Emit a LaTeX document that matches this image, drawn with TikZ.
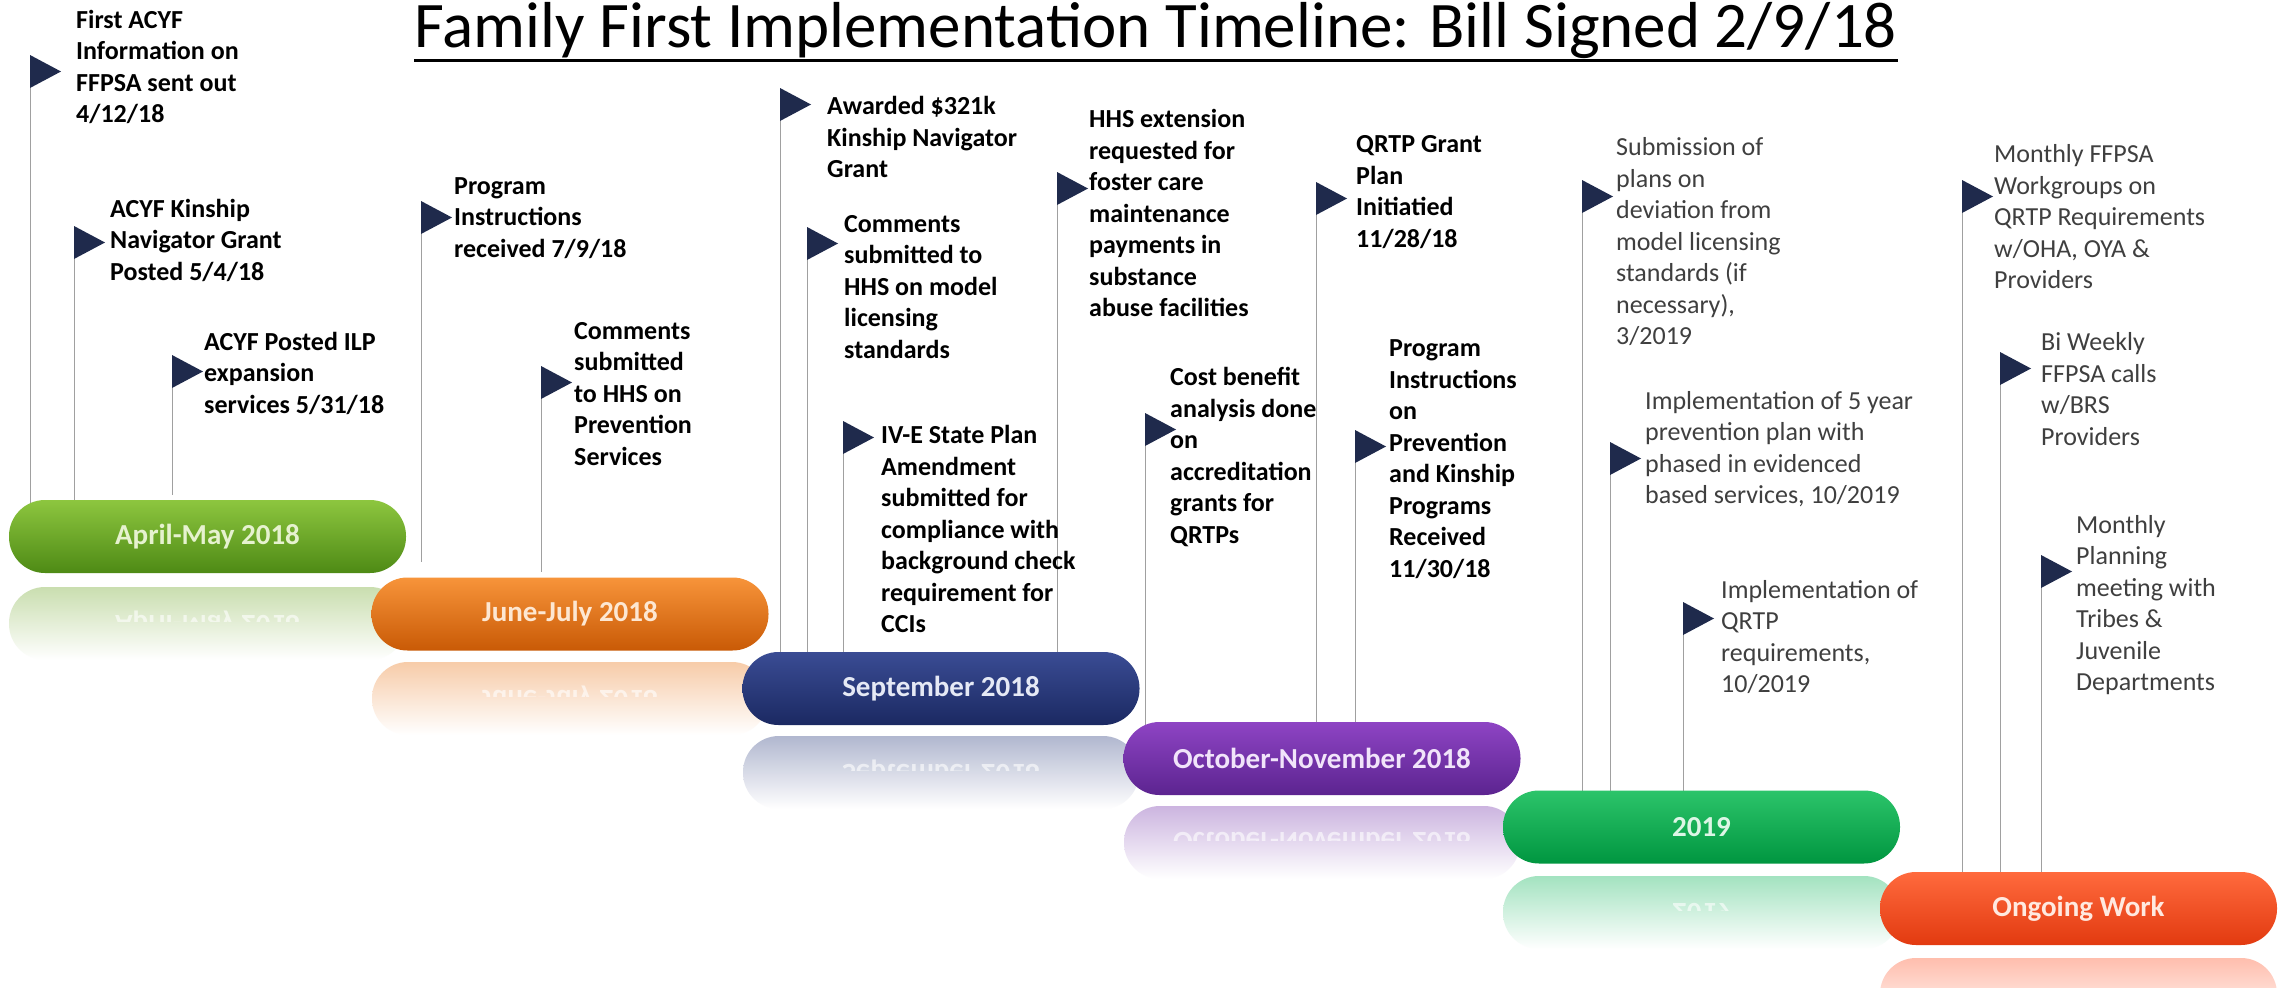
\documentclass[tikz,border=0pt]{standalone}
\usepackage{graphicx}
\usepackage{fontspec}
\setmainfont{Carlito}
\usetikzlibrary{backgrounds,calc}
\definecolor{flagc}{HTML}{1F2A4C}
\definecolor{polec}{HTML}{A0A0A0}
\definecolor{txtgray}{HTML}{3F3F3F}
\definecolor{gAt}{HTML}{8DC63F}\definecolor{gAm}{HTML}{6BA322}\definecolor{gAb}{HTML}{4E8A15}\definecolor{gAx}{HTML}{E6F2CF}
\definecolor{gBt}{HTML}{F7943A}\definecolor{gBm}{HTML}{E8700F}\definecolor{gBb}{HTML}{C95A06}\definecolor{gBx}{HTML}{FDE7D2}
\definecolor{gCt}{HTML}{3A4C94}\definecolor{gCm}{HTML}{26377A}\definecolor{gCb}{HTML}{1B2962}\definecolor{gCx}{HTML}{E5E9F5}
\definecolor{gDt}{HTML}{8E44C4}\definecolor{gDm}{HTML}{7130A8}\definecolor{gDb}{HTML}{5C2490}\definecolor{gDx}{HTML}{F1E4FA}
\definecolor{gEt}{HTML}{2CC46A}\definecolor{gEm}{HTML}{00B050}\definecolor{gEb}{HTML}{009640}\definecolor{gEx}{HTML}{DDF6E6}
\definecolor{gFt}{HTML}{FF6A3D}\definecolor{gFm}{HTML}{FF4A1C}\definecolor{gFb}{HTML}{E23A10}\definecolor{gFx}{HTML}{FFE9E0}
\tikzset{
  pill/.style={rounded corners=36pt, minimum width=397pt, minimum height=73pt, inner sep=0pt,
    font=\fontsize{29}{34}\selectfont\bfseries},
  evt/.style={anchor=west, align=left, inner sep=0pt, font=\fontsize{26}{31.5}\selectfont\bfseries, text=black},
  evtlight/.style={anchor=west, align=left, inner sep=0pt, font=\fontsize{26}{31.5}\selectfont, text=txtgray},
  pole/.style={draw=polec, line width=1pt},
  pennant/.style={fill=flagc},
  mirror/.style={inner sep=0pt, font=\fontsize{29}{34}\selectfont\bfseries, text=white, opacity=0.6},
}
\newcommand\pennantat[1]{\fill[pennant] (#1) -- ++(31,16.5) -- ++(-31,16.5) -- cycle;}
\newcommand\reflectband[5]{%
  \shade[top color=#5!36!white, middle color=white, bottom color=white, rounded corners=36pt]
    (#1,#3) rectangle (#2,#3+73);}
\newcommand\reflecttext[5]{%
  \begin{scope}
    \clip (#1,#3) rectangle (#2,#3+34);
    \node[mirror] at ({(#1+#2)/2},#4) {\scalebox{1}[-1]{#5}};
  \end{scope}}
\begin{document}
\begin{tikzpicture}[x=1pt,y=-1pt]
\useasboundingbox (0,0) rectangle (2284,988);

% title
\node[font=\fontsize{65}{70}\selectfont, inner sep=0pt, anchor=base] (title) at (1156,47)
  {Family First Implementation Timeline: Bill Signed 2/9/18};
\draw[line width=3pt] ([yshift=-13pt]title.base west) -- ([yshift=-13pt]title.base east);

% reflections
\reflectband{9}{406}{587}{623.5}{gAm}
\reflectband{372}{768}{662}{698}{gBm}
\reflectband{743}{1139}{736}{772.5}{gCm}
\reflectband{1124}{1520}{806}{842.5}{gDm}
\reflectband{1503}{1900}{876}{913}{gEm}
\reflectband{1880}{2277}{958}{994.5}{gFm}
\reflecttext{9}{406}{587}{623.5}{April-May 2018}
\reflecttext{372}{768}{662}{698}{June-July 2018}
\reflecttext{743}{1139}{736}{772.5}{September 2018}
\reflecttext{1124}{1520}{806}{842.5}{October-November 2018}
\reflecttext{1503}{1900}{876}{913}{2019}

% pills
\node[pill, top color=gAt, middle color=gAm, bottom color=gAb, text=gAx] (p1) at (207.5,536.5) {April-May 2018};
\node[pill, top color=gBt, middle color=gBm, bottom color=gBb, text=gBx] (p2) at (570,614) {June-July 2018};
\node[pill, top color=gCt, middle color=gCm, bottom color=gCb, text=gCx] (p3) at (941,688.5) {September 2018};
\node[pill, top color=gDt, middle color=gDm, bottom color=gDb, text=gDx] (p4) at (1322,758.5) {October-November 2018};
\node[pill, top color=gEt, middle color=gEm, bottom color=gEb, text=gEx] (p5) at (1701.5,827) {2019};
\node[pill, top color=gFt, middle color=gFm, bottom color=gFb, text=gFx] (p6) at (2078.5,908.5) {Ongoing Work};

% flag anchor points (top of each pole)
\coordinate (fA) at (30,55);
\coordinate (fB) at (74,226);
\coordinate (fC) at (172,355);
\coordinate (fD) at (421,201);
\coordinate (fE) at (541,366);
\coordinate (fF) at (780,88);
\coordinate (fG) at (807,227);
\coordinate (fH) at (843,421);
\coordinate (fI) at (1057,172);
\coordinate (fJ) at (1145,413);
\coordinate (fK) at (1316,182);
\coordinate (fL) at (1355,430);
\coordinate (fM) at (1582,180);
\coordinate (fN) at (1610,442);
\coordinate (fO) at (1683,602);
\coordinate (fP) at (1962,180);
\coordinate (fQ) at (2000,352);
\coordinate (fR) at (2041,555);

% background and poles
\begin{scope}[on background layer]
\fill[white] (0,0) rectangle (2284,988);
\draw[pole] (fA) -- (fA |- p1.center);
\draw[pole] (fB) -- (fB |- p1.center);
\draw[pole] (fC) -- ($(fC |- p1.north)+(0,-5)$);
\draw[pole] (fD) -- ($(fD |- p2.north)+(0,-15)$);
\draw[pole] (fE) -- ($(fE |- p2.north)+(0,-5)$);
\draw[pole] (fF) -- (fF |- p3.center);
\draw[pole] (fG) -- (fG |- p3.center);
\draw[pole] (fH) -- (fH |- p3.center);
\draw[pole] (fI) -- (fI |- p3.center);
\draw[pole] (fJ) -- (fJ |- p4.center);
\draw[pole] (fK) -- (fK |- p4.center);
\draw[pole] (fL) -- (fL |- p4.center);
\draw[pole] (fM) -- (fM |- p5.center);
\draw[pole] (fN) -- (fN |- p5.center);
\draw[pole] (fO) -- (fO |- p5.center);
\draw[pole] (fP) -- (fP |- p6.center);
\draw[pole] (fQ) -- (fQ |- p6.center);
\draw[pole] (fR) -- (fR |- p6.center);
\end{scope}

% pennants
\pennantat{fA}\pennantat{fB}\pennantat{fC}\pennantat{fD}\pennantat{fE}\pennantat{fF}
\pennantat{fG}\pennantat{fH}\pennantat{fI}\pennantat{fJ}\pennantat{fK}\pennantat{fL}
\pennantat{fM}\pennantat{fN}\pennantat{fO}\pennantat{fP}\pennantat{fQ}\pennantat{fR}

% event texts
\node[evt] (tA) at (76,67) {First ACYF\\Information on\\FFPSA sent out\\4/12/18};
\node[evt] (tB) at (110,240) {ACYF Kinship\\Navigator Grant\\Posted 5/4/18};
\node[evt] (tC) at (204,373) {ACYF Posted ILP\\expansion\\services 5/31/18};
\node[evt] (tD) at (454,218) {Program\\Instructions\\received 7/9/18};
\node[evt] (tE) at (574,394) {Comments\\submitted\\to HHS on\\Prevention\\Services};
\node[evt] (tF) at (827,137) {Awarded \$321k\\Kinship Navigator\\Grant};
\node[evt] (tG) at (844,287) {Comments\\submitted to\\HHS on model\\licensing\\standards};
\node[evt] (tH) at (881,529) {IV-E State Plan\\Amendment\\submitted for\\compliance with\\background check\\requirement for\\CCIs};
\node[evt] (tI) at (1089,213) {HHS extension\\requested for\\foster care\\maintenance\\payments in\\substance\\abuse facilities};
\node[evt] (tJ) at (1170,457) {Cost benefit\\analysis done\\on\\accreditation\\grants for\\QRTPs};
\node[evt] (tK) at (1356,192) {QRTP Grant\\Plan\\Initiatied\\11/28/18};
\node[evt] (tL) at (1389,459) {Program\\Instructions\\on\\Prevention\\and Kinship\\Programs\\Received\\11/30/18};
\node[evtlight] (tM) at (1616,242) {Submission of\\plans on\\deviation from\\model licensing\\standards (if\\necessary),\\3/2019};
\node[evtlight] (tN) at (1645,449) {Implementation of 5 year\\prevention plan with\\phased in evidenced\\based services, 10/2019};
\node[evtlight] (tO) at (1721,637) {Implementation of\\QRTP\\requirements,\\10/2019};
\node[evtlight] (tP) at (1994,217) {Monthly FFPSA\\Workgroups on\\QRTP Requirements\\w/OHA, OYA \&\\Providers};
\node[evtlight] (tQ) at (2041,389) {Bi Weekly\\FFPSA calls\\w/BRS\\Providers};
\node[evtlight] (tR) at (2076,605) {Monthly\\Planning\\meeting with\\Tribes \&\\Juvenile\\Departments};
\end{tikzpicture}
\end{document}
